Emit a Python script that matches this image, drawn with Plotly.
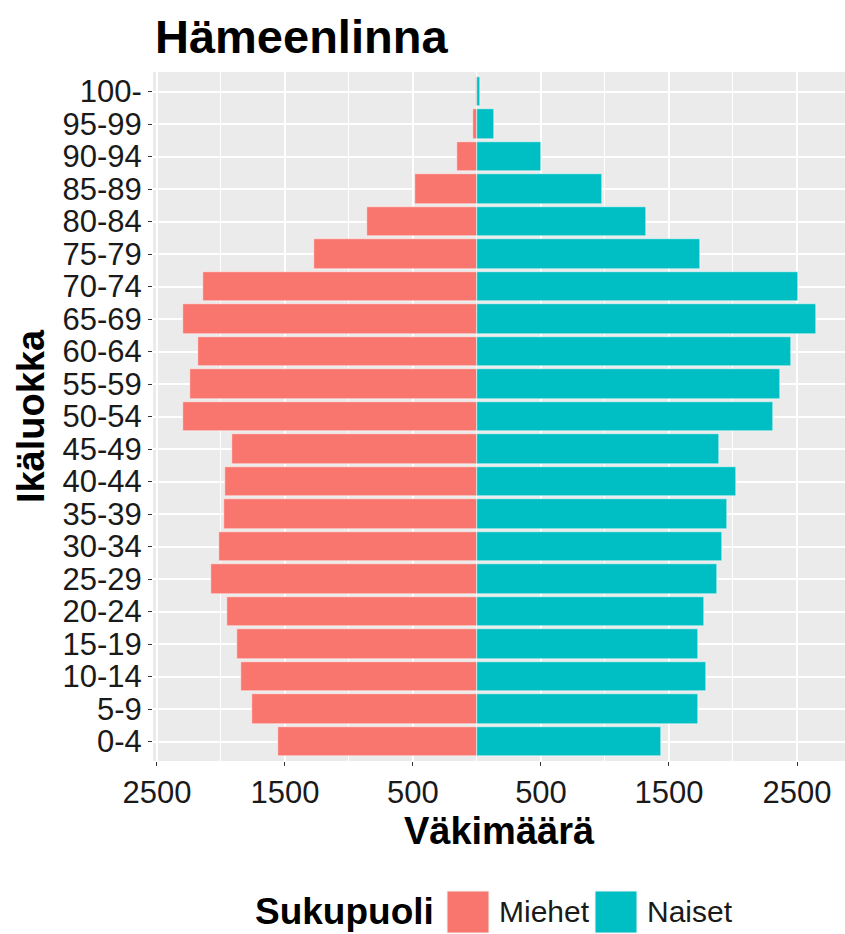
import plotly.graph_objects as go

age_groups = ['0-4', '5-9', '10-14', '15-19', '20-24', '25-29', '30-34', '35-39',
              '40-44', '45-49', '50-54', '55-59', '60-64', '65-69', '70-74',
              '75-79', '80-84', '85-89', '90-94', '95-99', '100-']
men = [1555, 1758, 1841, 1873, 1951, 2076, 2013, 1977, 1966, 1914, 2294,
       2242, 2177, 2294, 2143, 1273, 859, 484, 156, 30, 5]
women = [1438, 1727, 1789, 1727, 1773, 1875, 1914, 1953, 2026, 1893, 2310,
         2367, 2451, 2648, 2510, 1742, 1320, 977, 500, 133, 23]
tick_vals = [-2500, -1500, -500, 500, 1500, 2500]
minor_vals = [-2000, -1000, 0, 1000, 2000]

RED = '#F8766D'
TEAL = '#00BFC4'
FONT = 'Liberation Sans, Arial, sans-serif'

fig = go.Figure()
fig.add_trace(go.Bar(y=age_groups, x=[-v for v in men], orientation='h', name='Miehet',
                     marker=dict(color=RED, line=dict(color='white', width=0.5)),
                     width=0.9))
fig.add_trace(go.Bar(y=age_groups, x=women, orientation='h', name='Naiset',
                     marker=dict(color=TEAL, line=dict(color='white', width=0.5)),
                     width=0.9))

fig.update_layout(
    width=845, height=934,
    margin=dict(l=153, r=0, t=72, b=173),
    barmode='relative',
    bargap=0,
    showlegend=False,
    paper_bgcolor='white',
    plot_bgcolor='#EBEBEB',
    font=dict(family=FONT, color='#1a1a1a'),
    title=dict(text='<b>Hämeenlinna</b>', x=155 / 845, xanchor='left',
               y=1 - 37 / 934, yanchor='middle',
               font=dict(size=47, color='black')),
)

fig.update_xaxes(
    range=[-2531, 2875],
    automargin=False,
    tickvals=tick_vals,
    ticktext=[str(abs(v)) for v in tick_vals],
    tickfont=dict(size=31, color='#1a1a1a'),
    ticks='outside', ticklen=4, tickcolor='#333333', tickwidth=1,
    showgrid=True, gridcolor='white', gridwidth=1.5,
    minor=dict(tickvals=minor_vals, showgrid=True, gridcolor='white',
               gridwidth=0.7, ticks=''),
    zeroline=False,
    title=dict(text='<b>Väkimäärä</b>', font=dict(size=38, color='black'),
               standoff=6),
)

fig.update_yaxes(
    categoryorder='array', categoryarray=age_groups,
    tickmode='array', tickvals=age_groups,
    range=[-0.6, len(age_groups) - 0.4],
    automargin=False,
    tickfont=dict(size=31, color='#1a1a1a'),
    ticks='outside', ticklen=4, tickcolor='#333333', tickwidth=1,
    showgrid=True, gridcolor='white', gridwidth=1.5,
    title=dict(text='<b>Ikäluokka</b>', font=dict(size=38, color='black'),
               standoff=6),
)

# legend drawn by hand so the swatches get the large ggplot key size
def px_x(p):
    return (p - 153) / 692

def px_y(p):
    return (761 - p) / 689

legend_items = [('Miehet', RED, 447, 497), ('Naiset', TEAL, 595, 645)]
fig.add_annotation(text='<b>Sukupuoli</b>', xref='paper', yref='paper',
                   x=px_x(253), y=px_y(912), xanchor='left', yanchor='middle',
                   showarrow=False, font=dict(size=37, color='black'))
for label, col, sx, tx in legend_items:
    fig.add_shape(type='rect', xref='paper', yref='paper',
                  x0=px_x(sx), x1=px_x(sx + 42), y0=px_y(891), y1=px_y(933),
                  fillcolor=col, line=dict(color='#f2f2f2', width=1))
    fig.add_annotation(text=label, xref='paper', yref='paper',
                       x=px_x(tx), y=px_y(912), xanchor='left', yanchor='middle',
                       showarrow=False, font=dict(size=30, color='#1a1a1a'))

# drop the default page margin so the figure sits at the window's corner
fig.write_html('out.html', config={'displayModeBar': False},
               post_script="document.body.style.margin='0';"
                           "document.body.style.overflow='hidden';")
